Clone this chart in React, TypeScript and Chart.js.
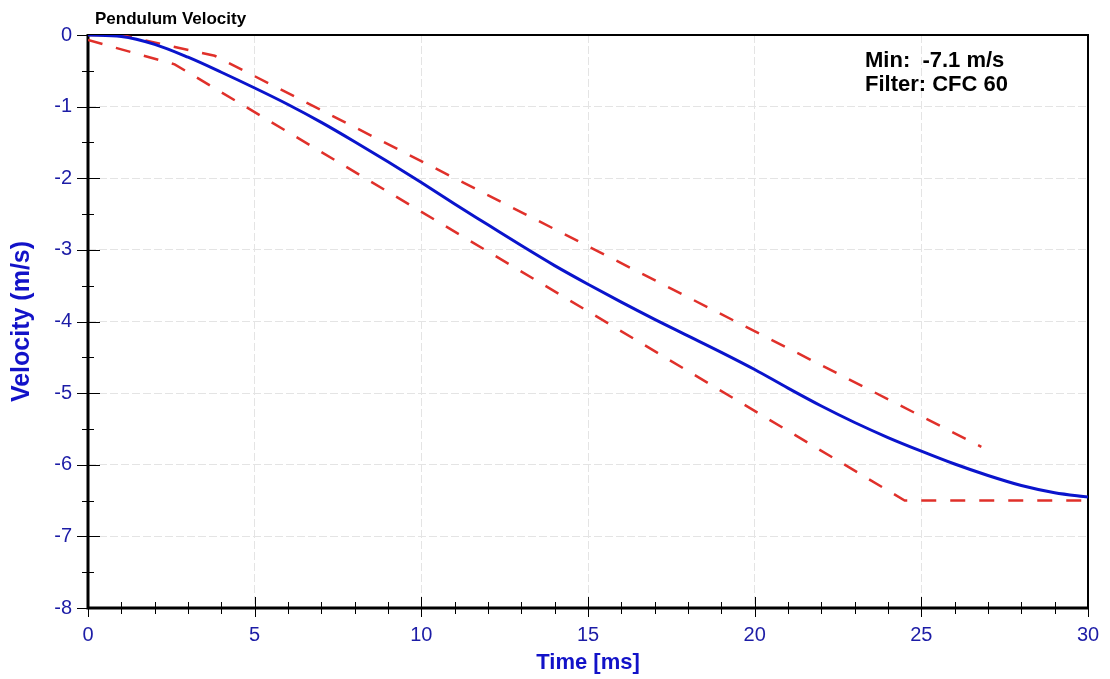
import React, { useEffect, useRef } from 'react';
import { Chart, registerables } from 'chart.js';

Chart.register(...registerables);

// ---- data ----
const timeMs = [0, 1, 2, 3, 4, 5, 6, 7, 8, 9, 10, 11, 12, 13, 14, 15, 16, 17, 18, 19, 20, 21, 22, 23, 24, 25, 26, 27, 28, 29, 30];
const velocity = [0, -0.02, -0.13, -0.31, -0.52, -0.74, -0.97, -1.22, -1.49, -1.77, -2.06, -2.36, -2.65, -2.94, -3.22, -3.48, -3.73, -3.97, -4.2, -4.43, -4.67, -4.93, -5.18, -5.41, -5.62, -5.81, -5.99, -6.15, -6.29, -6.39, -6.45];
const upperTime = [0, 1, 3.8, 26.8];
const upperVel = [0, 0, -0.29, -5.75];
const lowerTime = [0, 2.6, 24.5, 30];
const lowerVel = [-0.07, -0.41, -6.5, -6.5];
const xTickValues = [0, 5, 10, 15, 20, 25, 30];
const yTickValues = [0, -1, -2, -3, -4, -5, -6, -7, -8];
const chartTitle = 'Pendulum Velocity';
const infoLines = ['Min:  -7.1 m/s', 'Filter: CFC 60'];
const xTitle = 'Time [ms]';
const yTitle = 'Velocity (m/s)';

const FONT = '"Liberation Sans", Arial, sans-serif';
const TICK_COLOR = '#1c1ca6';
const AXIS_TITLE_COLOR = '#1212c8';

const framePlugin = {
  id: 'frameAndText',
  beforeDatasetsDraw(chart: any) {
    const { ctx, chartArea } = chart;
    const { left, right, top, bottom } = chartArea;
    const xs = chart.scales.x;
    const ys = chart.scales.y;
    ctx.save();
    ctx.strokeStyle = '#000';
    ctx.lineWidth = 1;
    for (let t = 0; t <= 30; t += 1) {
      const px = Math.round(xs.getPixelForValue(t)) + 0.5;
      const major = t % 5 === 0;
      ctx.beginPath();
      ctx.moveTo(px, bottom - (major ? 11 : 6));
      ctx.lineTo(px, bottom + (major ? 9 : 6));
      ctx.stroke();
    }
    for (let i = 0; i <= 16; i++) {
      const v = -i * 0.5;
      const py = Math.round(ys.getPixelForValue(v)) + 0.5;
      const major = i % 2 === 0;
      ctx.beginPath();
      ctx.moveTo(left - (major ? 11 : 6), py);
      ctx.lineTo(left + (major ? 12 : 6), py);
      ctx.stroke();
    }
    ctx.lineWidth = 2;
    ctx.strokeRect(left, top, right - left, bottom - top);
    ctx.lineWidth = 3;
    ctx.beginPath();
    ctx.moveTo(left, top - 1);
    ctx.lineTo(left, bottom);
    ctx.lineTo(right + 1, bottom);
    ctx.stroke();
    ctx.restore();
  },
  afterDraw(chart: any) {
    const { ctx, chartArea } = chart;
    ctx.save();
    ctx.fillStyle = '#000';
    ctx.textBaseline = 'alphabetic';
    ctx.textAlign = 'left';
    ctx.font = `bold 17px ${FONT}`;
    ctx.fillText(chartTitle, chartArea.left + 7, 24);
    ctx.font = `bold 22px ${FONT}`;
    ctx.fillText(infoLines[0], 865, 67);
    ctx.fillText(infoLines[1], 865, 91);
    ctx.restore();
  },
};

export default function App() {
  const canvasRef = useRef<HTMLCanvasElement | null>(null);

  useEffect(() => {
    const canvas = canvasRef.current;
    if (!canvas) return;
    const chart = new Chart(canvas, {
      type: 'line',
      data: {
        datasets: [
          {
            label: 'Velocity',
            data: timeMs.map((t, i) => ({ x: t, y: velocity[i] })),
            borderColor: '#0a14cc',
            borderWidth: 3,
            pointRadius: 0,
            cubicInterpolationMode: 'monotone',
            fill: false,
            order: 0,
          },
          {
            label: 'Upper corridor',
            data: upperTime.map((t, i) => ({ x: t, y: upperVel[i] })),
            borderColor: '#e0302a',
            borderWidth: 2.5,
            borderDash: [15, 14],
            pointRadius: 0,
            tension: 0,
            fill: false,
            order: 1,
          },
          {
            label: 'Lower corridor',
            data: lowerTime.map((t, i) => ({ x: t, y: lowerVel[i] })),
            borderColor: '#e0302a',
            borderWidth: 2.5,
            borderDash: [15, 14],
            pointRadius: 0,
            tension: 0,
            fill: false,
            order: 1,
          },
        ],
      },
      options: {
        animation: false,
        responsive: false,
        devicePixelRatio: 1,
        layout: { padding: { top: 35, right: 22, left: 0, bottom: 0 } },
        plugins: { legend: { display: false }, tooltip: { enabled: false }, title: { display: false } },
        scales: {
          x: {
            type: 'linear',
            min: 0,
            max: 30,
            afterBuildTicks: (s: any) => {
              s.ticks = xTickValues.map((v) => ({ value: v }));
            },
            afterFit: (s: any) => {
              s.height = 71;
              s.paddingLeft = 0;
              s.paddingRight = 0;
            },
            ticks: { color: TICK_COLOR, font: { family: FONT, size: 20 }, padding: 15, maxRotation: 0, autoSkip: false },
            grid: { color: '#e4e4e4', lineWidth: 1, drawTicks: false },
            border: { display: false, dash: [8, 3] },
            title: { display: true, text: xTitle, color: AXIS_TITLE_COLOR, font: { family: FONT, size: 22, weight: 'bold' }, padding: { top: 0, bottom: 3 } },
          },
          y: {
            type: 'linear',
            min: -8,
            max: 0,
            afterBuildTicks: (s: any) => {
              s.ticks = yTickValues.map((v) => ({ value: v }));
            },
            afterFit: (s: any) => {
              s.width = 88;
              s.paddingTop = 0;
              s.paddingBottom = 0;
            },
            ticks: { color: TICK_COLOR, font: { family: FONT, size: 20 }, padding: 16, autoSkip: false },
            grid: { color: '#e4e4e4', lineWidth: 1, drawTicks: false },
            border: { display: false, dash: [8, 3] },
            title: { display: true, text: yTitle, color: AXIS_TITLE_COLOR, font: { family: FONT, size: 25, weight: 'bold' }, padding: { top: 7, bottom: 0 } },
          },
        },
      },
      plugins: [framePlugin],
    });
    return () => chart.destroy();
  }, []);

  return (
    <div style={{ position: 'absolute', left: 0, top: 0, width: 1110, height: 679, background: '#fff' }}>
      <canvas ref={canvasRef} width={1110} height={679} style={{ width: 1110, height: 679, display: 'block' }} />
    </div>
  );
}
